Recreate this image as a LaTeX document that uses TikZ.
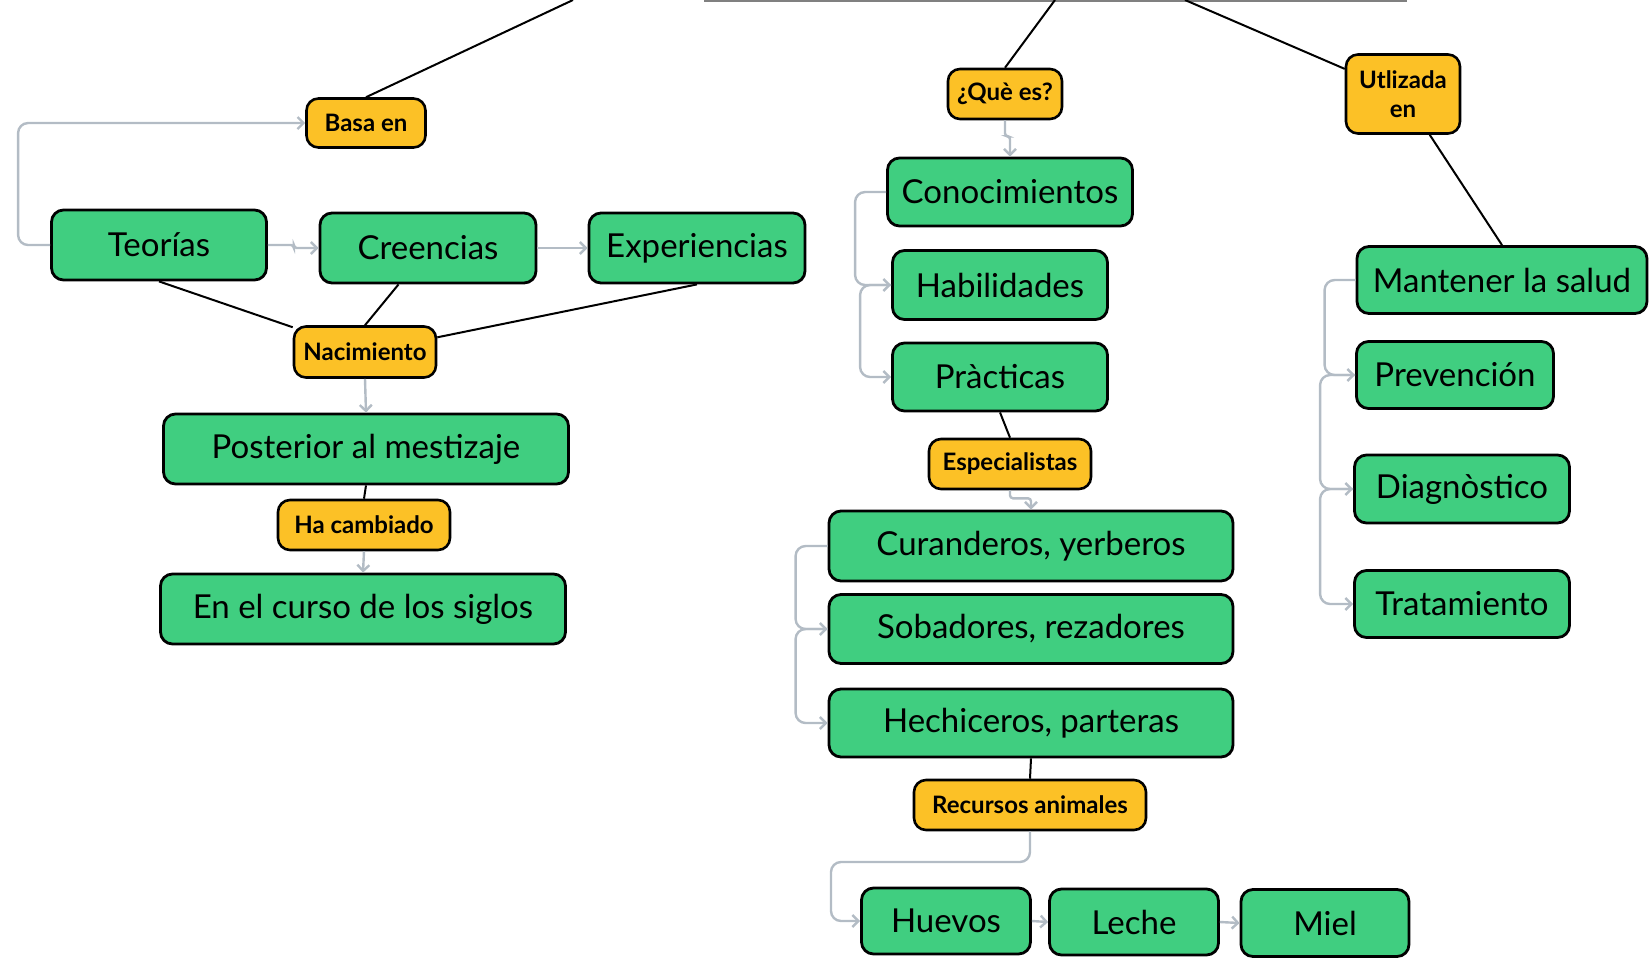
\documentclass[tikz,border=0pt]{standalone}
\usepackage{fontspec}
\setmainfont{Lato}
\usepackage{tikz}
\usetikzlibrary{arrows.meta}
\definecolor{boxgreen}{HTML}{40CE80}
\definecolor{boxyellow}{HTML}{FCC126}
\definecolor{arrowgray}{HTML}{B3BCC5}

\begin{document}
\begin{tikzpicture}[x=0.5pt, y=-0.5pt,
        concept/.style={rectangle, rounded corners=6pt, draw, line width=1.4pt, fill=boxgreen, inner sep=0pt, font=\fontsize{16.5}{19}\selectfont},
        linkword/.style={rectangle, rounded corners=6pt, draw, line width=1.3pt, fill=boxyellow, inner sep=0pt, align=center, font=\fontsize{12}{14.5}\selectfont\bfseries},
        tie/.style={line width=1pt, black},
        flow/.style={line width=1.2pt, arrowgray, rounded corners=5pt, -{Straight Barb[length=3pt,width=6pt]}},
        jog/.style={flow, rounded corners=1.5pt}]
        \useasboundingbox (0,0) rectangle (1649,960);
        \draw[line width=0.8pt, gray] (704,1) -- (1407,1);
        \coordinate (top1) at (573,0);
        \coordinate (top2) at (1055,0);
        \coordinate (top3) at (1185,0);
        % left branch
        \node[linkword, minimum width=59.5pt, minimum height=24.5pt] (basa) at (366,123) {Basa en};
        \node[concept, minimum width=107.5pt, minimum height=35pt] (teo) at (159,245) {Teorías};
        \node[concept, minimum width=108pt, minimum height=35pt] (cre) at (428,248) {Creencias};
        \node[concept, minimum width=108pt, minimum height=35pt] (exp) at (697,248) {Experiencias};
        \node[linkword, minimum width=71pt, minimum height=25.5pt] (nac) at (365,352) {Nacimiento};
        \node[concept, minimum width=202.5pt, minimum height=35pt] (pos) at (366,449) {Posterior al mestizaje};
        \node[linkword, minimum width=86pt, minimum height=25pt] (hac) at (364,525) {Ha cambiado};
        \node[concept, minimum width=202.5pt, minimum height=35pt] (sig) at (363,609) {En el curso de los siglos};
        % middle branch
        \node[linkword, minimum width=57pt, minimum height=25pt] (que) at (1005,94) {¿Què es?};
        \node[concept, minimum width=122.5pt, minimum height=34pt] (con) at (1010,192) {Conocimientos};
        \node[concept, minimum width=107.5pt, minimum height=34.5pt] (hab) at (1000,285) {Habilidades};
        \node[concept, minimum width=107.5pt, minimum height=34pt] (pra) at (1000,377) {Pràcticas};
        \node[linkword, minimum width=81pt, minimum height=25pt] (esp) at (1010,464) {Especialistas};
        \node[concept, minimum width=202pt, minimum height=35pt] (cura) at (1031,546) {Curanderos, yerberos};
        \node[concept, minimum width=202pt, minimum height=34.5pt] (soba) at (1031,629) {Sobadores, rezadores};
        \node[concept, minimum width=202pt, minimum height=34pt] (hech) at (1031,723) {Hechiceros, parteras};
        \node[linkword, minimum width=116pt, minimum height=25pt] (rec) at (1030,805) {Recursos animales};
        \node[concept, minimum width=84.5pt, minimum height=33pt] (hue) at (946,921) {Huevos};
        \node[concept, minimum width=84.5pt, minimum height=33pt] (lec) at (1134,922) {Leche};
        \node[concept, minimum width=84pt, minimum height=33.5pt] (miel) at (1325,923) {Miel};
        % right branch
        \node[linkword, minimum width=57pt, minimum height=39.5pt] (utl) at (1403,94) {Utlizada\\en};
        \node[concept, minimum width=145pt, minimum height=33.5pt] (man) at (1502,280) {Mantener la salud};
        \node[concept, minimum width=98.5pt, minimum height=33.5pt] (pre) at (1455,375) {Prevención};
        \node[concept, minimum width=107.5pt, minimum height=34pt] (dia) at (1462,489) {Diagnòstico};
        \node[concept, minimum width=107.5pt, minimum height=33.5pt] (tra) at (1462,604) {Tratamiento};
        % black ties
        \draw[tie] (top1) -- (basa.north);
        \draw[tie] (top2) -- (que.north);
        \draw[tie] (top3) -- (utl);
        \draw[tie] (utl) -- (man.north);
        \draw[tie] (teo.south) -- (nac);
        \draw[tie] (cre.231) -- (nac.north);
        \draw[tie] (exp.south) -- (nac);
        \draw[tie] (pos.south) -- (hac.north);
        \draw[tie] (pra.south) -- (esp.north);
        \draw[tie] (hech.south) -- (rec.north);
        % gray arrows
        \draw[flow] (teo.west) -- ++(-32,0) |- (basa.west);
        \draw[jog] (teo.east) -- ++(26,0) |- (cre.west);
        \draw[flow] (cre.east) -- (exp.west);
        \draw[flow] (nac.south) -- (pos.north);
        \draw[flow] (hac.south) -- (sig.north);
        \draw[jog] (que.south) -- ++(0,16) -| (con.north);
        \draw[flow] (con.west) -- ++(-31,0) |- (hab.west);
        \draw[flow] (hab.west) -- ++(-31,0) |- (pra.west);
        \draw[jog] (esp.south) -- ++(0,8) -| (cura.north);
        \draw[flow] (cura.west) -- ++(-32,0) |- (soba.west);
        \draw[flow] (soba.west) -- ++(-32,0) |- (hech.west);
        \draw[flow] (rec.south) -- (1030,862) -- (831,862) |- (hue.west);
        \draw[flow] (hue.east) -- (lec.west);
        \draw[flow] (lec.east) -- (miel.west);
        \draw[flow] (man.west) -- ++(-31,0) |- (pre.west);
        \draw[flow] (pre.west) -- ++(-35,0) |- (dia.west);
        \draw[flow] (dia.west) -- ++(-33,0) |- (tra.west);
    \end{tikzpicture}
\end{document}
